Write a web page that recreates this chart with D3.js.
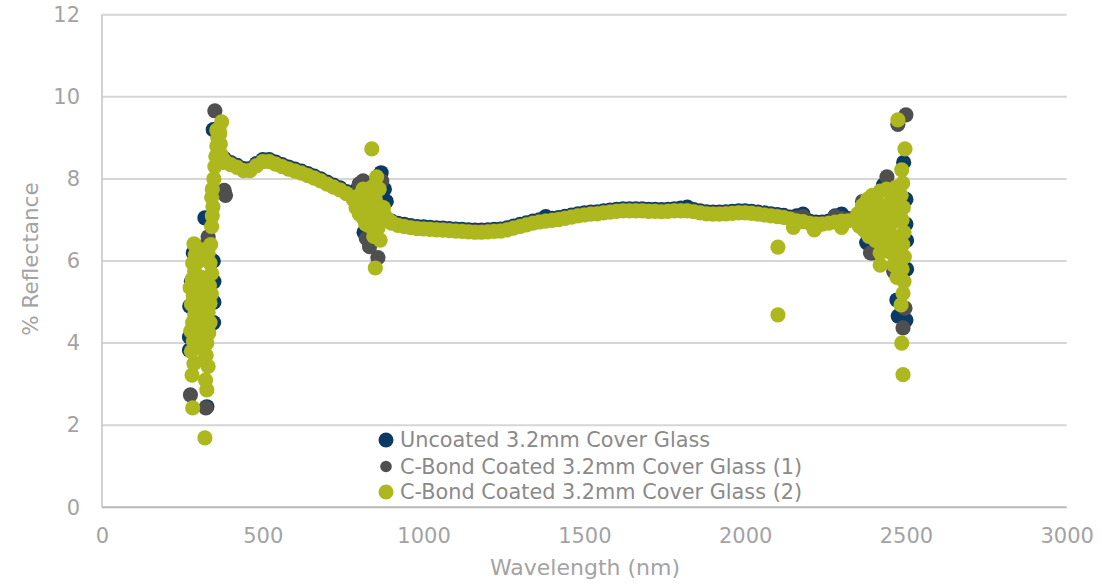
<!DOCTYPE html>
<html>
<head>
<meta charset="utf-8">
<script src="https://cdn.jsdelivr.net/npm/d3@7"></script>
<style>
  html, body { margin: 0; padding: 0; background: #fff; }
  svg { display: block; font-family: "DejaVu Sans", sans-serif; }
</style>
</head>
<body>
<svg id="chart" width="1102" height="584"></svg>
<script>
// ---------- DATA ----------
const xTicks = [0, 500, 1000, 1500, 2000, 2500, 3000];
const yTicks = [0, 2, 4, 6, 8, 10, 12];
const seriesNames = ["Uncoated 3.2mm Cover Glass", "C-Bond Coated 3.2mm Cover Glass (1)", "C-Bond Coated 3.2mm Cover Glass (2)"];
const seriesColors = ["#0b3a64", "#4f4f4f", "#adb81e"];

const bandWl = [380,400,420,440,460,480,500,520,540,560,580,600,620,640,660,680,700,720,740,760,
  780,800,820,840,860,880,900,920,940,960,980,1000,1020,1040,1060,1080,1100,1120,1140,1160,
  1180,1200,1220,1240,1260,1280,1300,1320,1340,1360,1380,1400,1420,1440,1460,1480,1500,1520,1540,1560,
  1580,1600,1620,1640,1660,1680,1700,1720,1740,1760,1780,1800,1820,1840,1860,1880,1900,1920,1940,1960,
  1980,2000,2020,2040,2060,2080,2100,2120,2140,2160,2180,2200,2220,2240,2260,2280,2300,2320,2340];

const uncoatedBand = [8.5,8.4,8.33,8.25,8.25,8.37,8.47,8.47,8.41,8.35,8.29,8.24,8.19,8.13,8.07,8.0,7.92,7.85,7.78,7.69,
  7.6,7.5,7.44,7.34,7.2,7.05,6.97,6.92,6.89,6.86,6.84,6.83,6.82,6.81,6.8,6.79,6.78,6.77,6.76,6.75,
  6.75,6.76,6.77,6.78,6.81,6.85,6.89,6.93,6.97,7.0,7.08,7.04,7.06,7.09,7.12,7.15,7.17,7.19,7.2,7.22,
  7.24,7.26,7.27,7.27,7.27,7.27,7.26,7.26,7.25,7.26,7.27,7.29,7.31,7.25,7.22,7.2,7.19,7.19,7.2,7.21,
  7.22,7.22,7.21,7.19,7.17,7.15,7.13,7.11,7.07,7.1,7.14,6.97,6.95,6.95,6.97,7.1,7.14,7.03,7.05];

const coated1Band = [8.47,8.37,8.3,8.22,8.22,8.34,8.44,8.44,8.38,8.32,8.26,8.21,8.16,8.1,8.04,7.97,7.89,7.82,7.75,7.66,
  7.62,7.55,7.5,7.32,7.17,7.02,6.94,6.89,6.86,6.83,6.81,6.8,6.79,6.78,6.77,6.76,6.75,6.74,6.73,6.72,
  6.72,6.73,6.74,6.75,6.78,6.82,6.86,6.9,6.94,6.97,6.99,7.01,7.03,7.06,7.09,7.12,7.14,7.16,7.17,7.19,
  7.21,7.23,7.24,7.24,7.24,7.24,7.23,7.23,7.22,7.23,7.24,7.24,7.24,7.22,7.19,7.17,7.16,7.16,7.17,7.18,
  7.19,7.19,7.18,7.16,7.14,7.12,7.1,7.08,7.04,7.05,7.08,6.94,6.92,6.92,6.94,7.08,7.04,7.0,7.02];

const coated2Band = [8.45,8.35,8.28,8.2,8.2,8.32,8.42,8.42,8.36,8.3,8.24,8.19,8.14,8.08,8.02,7.95,7.87,7.8,7.73,7.64,
  7.55,7.45,7.4,7.3,7.15,7.0,6.92,6.87,6.84,6.81,6.79,6.78,6.77,6.76,6.75,6.74,6.73,6.72,6.71,6.7,
  6.7,6.71,6.72,6.73,6.76,6.8,6.84,6.88,6.92,6.95,6.97,6.99,7.01,7.04,7.07,7.1,7.12,7.14,7.15,7.17,
  7.19,7.21,7.22,7.22,7.22,7.22,7.21,7.21,7.2,7.21,7.22,7.22,7.22,7.2,7.17,7.15,7.14,7.14,7.15,7.16,
  7.17,7.17,7.16,7.14,7.12,7.1,7.08,7.06,7.02,6.98,6.96,6.92,6.9,6.9,6.92,6.95,6.97,6.98,7.0];

// scattered (noisy) readings: UV edge, ~850 nm detector change, >2340 nm
const uncoatedExtraWl = [272,272,273,278,284,300,326,347,348,348,346,346,320,
  790,868,878,884,835,815,
  2493,2500,2476,2472,2500,2502,2502,2500,2378,2395,2430];
const uncoatedExtra = [3.83,4.15,4.9,5.5,6.2,6.0,2.45,4.5,5.0,5.5,6.0,9.2,7.05,
  7.72,8.15,7.75,7.45,6.45,6.7,
  8.4,4.56,4.66,5.05,7.5,6.5,5.8,6.9,6.45,6.2,7.85];

const coated1ExtraWl = [351,275,323,330,325,380,384,
  812,800,832,858,822,870,
  2475,2500,2491,2497,2441,2390,2462,2365];
const coated1Extra = [9.66,2.74,2.42,6.59,6.4,7.72,7.6,
  7.95,7.88,6.35,6.08,6.55,7.95,
  9.33,9.56,4.37,4.85,8.05,6.2,5.75,7.45];

const coated2ExtraWl = [
  // UV edge
  282,280,286,278,284,276,282,288,278,284,274,280,288,282,290,286,294,292,296,294,
  300,304,308,302,306,310,314,312,316,318,315,
  320,326,322,330,324,326,332,336,330,336,340,334,341,336,330,338,341,343,345,341,
  343,348,351,354,357,360,364,372,366,368,362,370,376,357,
  // ~850 nm
  781,790,800,800,812,812,812,825,825,833,833,840,845,845,850,854,855,858,862,865,
  868,870,875,880,890,900,839,850,795,820,
  // >2340 nm
  2350,2355,2365,2370,2380,2380,2385,2395,2395,2400,2405,2410,2415,2420,2420,2420,2425,2430,2435,2440,
  2440,2445,2450,2455,2455,2460,2462,2465,2468,2470,2472,2478,2480,
  2475,2497,2487,2490,2485,2492,2488,2494,2490,2495,2488,2494,2491,2485,2487,2491,
  // isolated / lower band
  2102,2102,2150,2215,2300];
const coated2Extra = [
  2.42,3.22,3.5,3.8,4.05,4.3,4.5,4.7,4.95,5.15,5.35,5.55,5.75,5.95,6.15,6.42,4.9,5.4,4.4,3.9,
  4.6,5.1,5.6,6.0,4.2,4.9,5.4,6.1,4.6,3.6,6.27,
  1.69,2.86,3.1,3.43,3.7,4.0,4.25,4.5,4.75,4.97,5.2,5.4,5.7,5.95,6.19,6.4,6.84,7.1,7.32,7.55,
  7.75,8.0,8.3,8.55,8.8,9.0,9.2,9.39,9.1,8.85,8.6,8.6,8.4,9.19,
  7.5,7.3,7.6,7.15,7.75,7.35,7.05,7.6,7.2,6.85,7.45,7.8,7.1,6.6,7.5,8.05,7.2,6.8,7.75,6.51,
  7.3,7.0,7.3,7.1,7.0,6.95,8.73,5.83,7.45,6.9,
  7.15,6.85,7.35,6.75,7.5,7.0,6.6,7.6,7.2,6.8,6.5,7.45,7.0,6.2,5.9,7.7,6.6,7.3,6.9,7.75,
  6.4,7.1,6.7,7.5,6.2,6.95,5.9,7.3,6.5,7.8,5.6,7.1,6.2,
  9.44,8.73,8.22,7.9,7.6,7.3,7.0,6.7,6.4,6.1,5.8,5.5,5.21,4.93,4.0,3.23,
  6.34,4.69,6.82,6.76,6.82];

// ---------- CHART ----------
const svg = d3.select("#chart");
const x = d3.scaleLinear().domain([0, 3000]).range([102, 1066.7]);
const y = d3.scaleLinear().domain([0, 12]).range([507.3, 14.7]);

const tickColor = "#a3a3a3";

// gridlines
svg.append("g").selectAll("line")
  .data(yTicks.filter(d => d > 0))
  .join("line")
  .attr("x1", x(0)).attr("x2", x(3000))
  .attr("y1", d => y(d)).attr("y2", d => y(d))
  .attr("stroke", "#d6d6d6").attr("stroke-width", 2);

// axis lines
svg.append("line").attr("x1", x(0)).attr("x2", x(0)).attr("y1", y(12)).attr("y2", y(0))
  .attr("stroke", "#c2c2c2").attr("stroke-width", 1.5);
svg.append("line").attr("x1", x(0)).attr("x2", x(3000)).attr("y1", y(0)).attr("y2", y(0))
  .attr("stroke", "#b8b8b8").attr("stroke-width", 2);

// axes (labels only)
const yAxis = svg.append("g").attr("transform", `translate(${x(0)},0)`)
  .call(d3.axisLeft(y).tickValues(yTicks).tickSize(0).tickPadding(22).tickFormat(d3.format("d")));
const xAxis = svg.append("g").attr("transform", `translate(0,${y(0)})`)
  .call(d3.axisBottom(x).tickValues(xTicks).tickSize(0).tickPadding(20.5).tickFormat(d3.format("d")));
[yAxis, xAxis].forEach(g => {
  g.select(".domain").remove();
  g.selectAll("text").attr("fill", tickColor).style("font-size", "21px").style("font-family", "DejaVu Sans, sans-serif");
});

// axis titles
svg.append("text").attr("transform", "translate(38,259) rotate(-90)")
  .attr("text-anchor", "middle").attr("fill", tickColor).style("font-size", "21.5px")
  .text("% Reflectance");
svg.append("text").attr("x", 585).attr("y", 575)
  .attr("text-anchor", "middle").attr("fill", tickColor).style("font-size", "22px")
  .text("Wavelength (nm)");

// series
const series = [
  { wl: bandWl.concat(uncoatedExtraWl), v: uncoatedBand.concat(uncoatedExtra) },
  { wl: bandWl.concat(coated1ExtraWl), v: coated1Band.concat(coated1Extra) },
  { wl: bandWl.concat(coated2ExtraWl), v: coated2Band.concat(coated2Extra) }
];
const plot = svg.append("g");
series.forEach((s, i) => {
  const pts = s.wl.map((w, k) => ({ w, v: s.v[k] }));
  plot.append("g").selectAll("circle").data(pts).join("circle")
    .attr("cx", d => x(d.w)).attr("cy", d => y(d.v)).attr("r", 7.6)
    .attr("fill", seriesColors[i]);
});

// legend
const legend = svg.append("g");
const legendY = [440, 466.5, 492];
const legendR = [7.5, 5.8, 7.5];
seriesNames.forEach((name, i) => {
  legend.append("circle").attr("cx", 386).attr("cy", legendY[i]).attr("r", legendR[i]).attr("fill", seriesColors[i]);
  legend.append("text").attr("x", 400).attr("y", legendY[i] + 7.3)
    .attr("fill", "#8a8a8a").style("font-size", "20.8px").text(name);
});
</script>
</body>
</html>
